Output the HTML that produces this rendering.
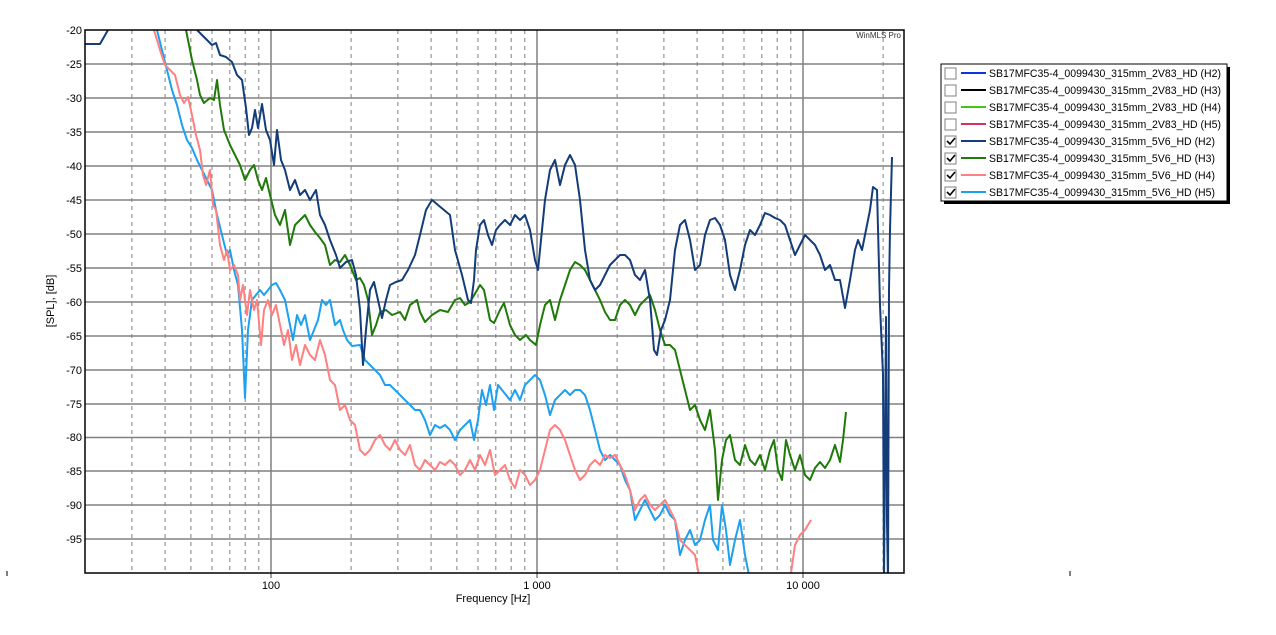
<!DOCTYPE html>
<html><head><meta charset="utf-8"><style>
html,body{margin:0;padding:0;background:#fff;}
svg{display:block;font-family:"Liberation Sans",sans-serif;}
</style></head><body>
<svg width="1276" height="635" viewBox="0 0 1276 635" xmlns="http://www.w3.org/2000/svg">
<defs><clipPath id="c"><rect x="85" y="30" width="819" height="543"/></clipPath></defs>
<rect width="1276" height="635" fill="#fff"/>
<g stroke="#808080" stroke-width="1" stroke-dasharray="4,4">
<path d="M131.9 30V573M165.1 30V573M190.9 30V573M212 30V573M229.8 30V573M245.2 30V573M258.8 30V573M351.1 30V573M397.9 30V573M431.1 30V573M456.9 30V573M478 30V573M495.8 30V573M511.2 30V573M524.8 30V573M617.1 30V573M663.9 30V573M697.1 30V573M722.9 30V573M744 30V573M761.8 30V573M777.2 30V573M790.8 30V573M883.1 30V573"/>
</g>
<g stroke="#808080" stroke-width="1.5">
<path d="M271 30V578M537 30V578M803 30V578"/>
<path d="M85 64H904M85 98H904M85 132H904M85 166H904M85 200H904M85 234H904M85 268H904M85 302H904M85 336H904M85 370H904M85 404H904M85 437.5H904M85 471H904M85 505H904M85 539H904"/>
</g>
<g clip-path="url(#c)" fill="none" stroke-width="2" stroke-linejoin="round">
<polyline stroke="#1ea0f0" points="157,30 162,50 167,70 172,90 177,105 182,125 187,140 192,148 197,160 202,170 207,180 212,190 217,215 222,235 227,255 230,250 234,270 238,285 242,330 245,398 248,330 252,300 256,295 260,290 264,295 268,290 272,285 276,283 280,290 285,300 289,320 293,340 297,315 301,325 305,315 310,340 314,330 318,320 322,300 326,305 330,300 335,325 340,320 343,330 347,340 352,346 360,345 365,360 370,365 375,370 380,375 385,385 390,385 395,390 400,395 405,400 410,405 415,410 420,410 425,420 430,435 435,425 440,428 445,425 450,430 455,440 460,430 465,425 470,420 474,440 478,420 482,390 486,405 490,385 494,410 498,385 502,390 506,395 510,400 515,390 520,400 525,385 530,380 535,375 540,380 545,395 550,415 555,400 560,395 565,390 570,395 575,390 580,390 585,395 590,410 595,430 600,450 605,460 610,455 615,460 620,465 625,480 630,490 635,520 640,510 645,500 650,510 655,520 660,515 665,505 670,515 675,520 680,555 685,540 690,530 695,545 700,540 705,520 710,505 713,540 718,550 722,505 726,530 730,565 735,540 740,520 745,555 750,580"/>
<polyline stroke="#ff8080" points="154,30 160,50 165,65 170,70 175,75 180,95 184,103 188,97 192,115 196,135 200,150 203,175 206,185 210,170 213,205 216,210 220,245 224,260 227,250 230,270 234,265 238,275 240,300 243,285 247,315 250,290 254,310 257,300 261,345 264,310 268,300 272,315 276,305 280,325 284,345 288,330 292,360 296,345 300,365 305,345 310,355 315,360 320,340 325,355 330,380 335,385 340,410 345,405 350,420 355,425 360,450 365,455 370,450 375,440 380,435 385,445 390,450 395,440 400,450 405,455 410,445 415,465 420,470 425,460 430,465 435,470 440,462 445,465 450,460 455,465 460,475 465,470 470,460 475,470 480,455 485,465 490,450 495,475 500,470 505,465 510,480 515,488 520,470 525,475 530,485 535,480 540,470 545,450 550,430 555,425 560,430 565,440 570,455 575,470 580,480 585,475 590,465 595,460 600,465 605,455 610,458 615,455 620,465 625,475 630,490 635,510 640,500 645,495 650,505 655,510 660,505 665,500 670,510 675,520 680,540 685,545 690,550 695,555 700,580"/>
<polyline stroke="#ff8080" points="790,580 795,545 800,535 805,530 811,520"/>
<polyline stroke="#1f7a0a" points="186,30 192,60 197,80 200,95 204,103 210,98 214,100 217,80 220,105 224,130 230,145 235,155 240,165 245,180 250,170 254,165 258,180 262,190 266,178 270,195 275,215 280,225 285,210 290,245 295,225 300,220 305,215 310,225 315,232 320,238 325,245 330,265 335,260 340,262 345,255 350,265 356,280 360,278 364,285 368,300 372,335 376,325 380,312 386,310 392,315 400,312 405,320 410,305 417,300 420,312 425,322 432,315 440,310 448,312 455,300 460,298 465,305 470,302 476,292 480,285 484,290 490,320 494,323 500,310 504,303 510,325 515,335 520,340 526,335 530,340 536,345 540,325 545,305 550,300 555,320 560,300 565,285 570,270 575,262 580,265 585,270 590,280 595,290 600,300 605,312 610,320 615,320 620,305 625,300 630,305 635,315 640,305 645,300 650,295 655,310 660,330 665,345 670,345 675,350 680,370 685,390 690,410 695,405 700,420 705,430 710,410 715,450 718,500 722,460 726,440 730,435 735,460 740,465 745,445 750,460 755,465 760,455 765,470 770,450 774,440 778,470 782,480 786,440 790,455 795,470 800,455 805,475 810,480 815,468 820,462 825,468 830,460 835,445 840,462 843,440 846,412"/>
<polyline stroke="#133c78" points="85,44 100,44 108,30"/>
<polyline stroke="#133c78" points="197,30 205,38 212,45 216,43 220,55 226,57 232,62 237,75 242,80 246,108 249,135 252,128 255,110 258,128 262,104 266,130 270,140 274,165 277,130 281,160 285,170 290,190 295,180 300,195 305,190 310,200 316,190 320,215 325,225 330,240 336,255 340,268 346,262 352,260 356,275 360,310 363,365 366,330 370,290 374,282 378,300 382,318 386,300 390,285 396,282 402,280 408,270 415,255 420,235 426,210 432,200 438,205 444,210 450,215 455,250 462,275 468,300 471,303 474,280 476,250 480,225 484,220 488,235 492,245 496,230 500,225 505,220 510,225 515,215 520,220 525,215 530,230 535,260 538,270 540,250 545,200 550,170 555,160 560,185 565,165 570,155 575,165 580,200 585,250 590,280 595,290 600,285 605,275 610,265 615,260 620,255 625,255 630,260 635,275 640,280 645,270 650,300 654,350 657,355 661,330 665,320 670,300 675,250 680,225 685,220 690,240 695,270 700,265 705,235 710,220 715,218 720,225 725,240 730,275 735,290 740,270 745,245 750,230 755,235 760,225 765,213 770,215 775,218 780,220 785,225 790,240 795,255 800,245 805,235 810,240 815,245 820,255 825,270 830,265 835,280 840,280 845,308 850,280 855,250 858,240 862,250 866,230 870,210 873,187 877,190 880,305 883,375 884,580 886,317 887,523 888,580 889,290 890,230 891,193 892,157"/>
</g>
<rect x="85" y="30" width="819" height="543" fill="none" stroke="#000" stroke-width="1.5"/>
<g font-size="11" fill="#000" text-anchor="end">
<text x="82" y="34">-20</text><text x="82" y="68">-25</text><text x="82" y="102">-30</text><text x="82" y="136">-35</text><text x="82" y="170">-40</text><text x="82" y="204">-45</text><text x="82" y="238">-50</text><text x="82" y="272">-55</text><text x="82" y="306">-60</text><text x="82" y="340">-65</text><text x="82" y="374">-70</text><text x="82" y="408">-75</text><text x="82" y="441">-80</text><text x="82" y="475">-85</text><text x="82" y="509">-90</text><text x="82" y="543">-95</text>
</g>
<g font-size="11" fill="#000" text-anchor="middle">
<text x="271" y="589">100</text><text x="537" y="589">1 000</text><text x="803" y="589">10 000</text>
<text x="493" y="602">Frequency [Hz]</text>
</g>
<text transform="translate(54,301) rotate(-90)" font-size="11" text-anchor="middle">[SPL], [dB]</text>
<text x="901" y="38" font-size="8" text-anchor="end" fill="#333">WinMLS Pro</text>
<path d="M7 571V576M1070 571V576" stroke="#000"/>
<rect x="944" y="67" width="286" height="137" fill="#000"/>
<rect x="941" y="64" width="286" height="137" fill="#fff" stroke="#000"/>
<g font-size="11" fill="#000">
<g stroke="#808080" fill="#fff"><rect x="945" y="68" width="11" height="11"/><rect x="945" y="85" width="11" height="11"/><rect x="945" y="102" width="11" height="11"/><rect x="945" y="119" width="11" height="11"/><rect x="945" y="136" width="11" height="11"/><rect x="945" y="153" width="11" height="11"/><rect x="945" y="170" width="11" height="11"/><rect x="945" y="187" width="11" height="11"/></g>
<g stroke="#000" stroke-width="1.6" fill="none"><path d="M947 141l3 3 5-6M947 158l3 3 5-6M947 175l3 3 5-6M947 192l3 3 5-6"/></g>
<g stroke-width="2"><path d="M961 73h25" stroke="#1030e8"/><path d="M961 90h25" stroke="#000"/><path d="M961 107h25" stroke="#40c810"/><path d="M961 124h25" stroke="#d83060"/><path d="M961 141h25" stroke="#133c78"/><path d="M961 158h25" stroke="#1f7a0a"/><path d="M961 175h25" stroke="#ff8080"/><path d="M961 192h25" stroke="#1ea0f0"/></g>
<text x="989" y="77" textLength="232" lengthAdjust="spacingAndGlyphs">SB17MFC35-4_0099430_315mm_2V83_HD (H2)</text>
<text x="989" y="94" textLength="232" lengthAdjust="spacingAndGlyphs">SB17MFC35-4_0099430_315mm_2V83_HD (H3)</text>
<text x="989" y="111" textLength="232" lengthAdjust="spacingAndGlyphs">SB17MFC35-4_0099430_315mm_2V83_HD (H4)</text>
<text x="989" y="128" textLength="232" lengthAdjust="spacingAndGlyphs">SB17MFC35-4_0099430_315mm_2V83_HD (H5)</text>
<text x="989" y="145" textLength="226" lengthAdjust="spacingAndGlyphs">SB17MFC35-4_0099430_315mm_5V6_HD (H2)</text>
<text x="989" y="162" textLength="226" lengthAdjust="spacingAndGlyphs">SB17MFC35-4_0099430_315mm_5V6_HD (H3)</text>
<text x="989" y="179" textLength="226" lengthAdjust="spacingAndGlyphs">SB17MFC35-4_0099430_315mm_5V6_HD (H4)</text>
<text x="989" y="196" textLength="226" lengthAdjust="spacingAndGlyphs">SB17MFC35-4_0099430_315mm_5V6_HD (H5)</text>
</g>
</svg>
</body></html>
